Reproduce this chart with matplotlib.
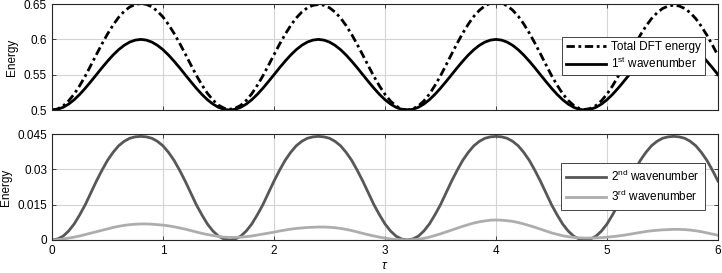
import matplotlib
matplotlib.use("Agg")
import matplotlib.pyplot as plt

plt.rcParams['font.family'] = ['Liberation Sans', 'DejaVu Sans']
plt.rcParams['mathtext.fontset'] = 'custom'
plt.rcParams['mathtext.rm'] = 'Liberation Sans'
plt.rcParams['mathtext.it'] = 'Liberation Sans:italic'

# sample grid of tau, step 0.05 from 0 to 6
tau = [round(0.05 * k, 2) for k in range(121)]

total = [0.5000, 0.5015, 0.5058, 0.5130, 0.5226, 0.5346, 0.5482, 0.5632,
         0.5785, 0.5935, 0.6076, 0.6203, 0.6312, 0.6397, 0.6459, 0.6495,
         0.6508, 0.6496, 0.6461, 0.6400, 0.6317, 0.6210, 0.6085, 0.5945,
         0.5796, 0.5643, 0.5493, 0.5357, 0.5237, 0.5141, 0.5069, 0.5026,
         0.5011, 0.5025, 0.5066, 0.5136, 0.5231, 0.5350, 0.5484, 0.5632,
         0.5783, 0.5932, 0.6071, 0.6196, 0.6303, 0.6386, 0.6447, 0.6482,
         0.6495, 0.6483, 0.6448, 0.6387, 0.6303, 0.6195, 0.6069, 0.5928,
         0.5778, 0.5625, 0.5476, 0.5341, 0.5222, 0.5126, 0.5056, 0.5015,
         0.5000, 0.5015, 0.5057, 0.5129, 0.5226, 0.5348, 0.5485, 0.5637,
         0.5792, 0.5944, 0.6087, 0.6215, 0.6326, 0.6412, 0.6475, 0.6512,
         0.6525, 0.6512, 0.6476, 0.6414, 0.6328, 0.6218, 0.6090, 0.5948,
         0.5796, 0.5641, 0.5489, 0.5353, 0.5232, 0.5136, 0.5065, 0.5023,
         0.5008, 0.5022, 0.5063, 0.5132, 0.5226, 0.5343, 0.5476, 0.5623,
         0.5774, 0.5922, 0.6061, 0.6186, 0.6293, 0.6376, 0.6437, 0.6472,
         0.6485, 0.6473, 0.6438, 0.6377, 0.6293, 0.6185, 0.6059, 0.5919,
         0.5770]

wave1 = [0.5, 0.501, 0.5038, 0.5084, 0.5146, 0.5222, 0.5309, 0.5403,
         0.55, 0.5598, 0.5691, 0.5778, 0.5854, 0.5916, 0.5962, 0.5990,
         0.6, 0.5990, 0.5962, 0.5916, 0.5854, 0.5778, 0.5691, 0.5598,
         0.55, 0.5403, 0.5309, 0.5222, 0.5146, 0.5084, 0.5038, 0.501,
         0.5, 0.501, 0.5038, 0.5084, 0.5146, 0.5222, 0.5309, 0.5403,
         0.55, 0.5598, 0.5691, 0.5778, 0.5854, 0.5916, 0.5962, 0.5990,
         0.6, 0.5990, 0.5962, 0.5916, 0.5854, 0.5778, 0.5691, 0.5598,
         0.55, 0.5403, 0.5309, 0.5222, 0.5146, 0.5084, 0.5038, 0.501,
         0.5, 0.501, 0.5038, 0.5084, 0.5146, 0.5222, 0.5309, 0.5403,
         0.55, 0.5598, 0.5691, 0.5778, 0.5854, 0.5916, 0.5962, 0.5990,
         0.6, 0.5990, 0.5962, 0.5916, 0.5854, 0.5778, 0.5691, 0.5598,
         0.55, 0.5403, 0.5309, 0.5222, 0.5146, 0.5084, 0.5038, 0.501,
         0.5, 0.501, 0.5038, 0.5084, 0.5146, 0.5222, 0.5309, 0.5403,
         0.55, 0.5598, 0.5691, 0.5778, 0.5854, 0.5916, 0.5962, 0.5990,
         0.6, 0.5990, 0.5962, 0.5916, 0.5854, 0.5778, 0.5691, 0.5598,
         0.55]

wave2 = [0.0, 0.0004, 0.0016, 0.0038, 0.0068, 0.0107, 0.0150, 0.0200,
         0.0250, 0.0296, 0.0338, 0.0372, 0.0400, 0.0419, 0.0432, 0.0438,
         0.0440, 0.0438, 0.0432, 0.0419, 0.0400, 0.0372, 0.0338, 0.0296,
         0.0250, 0.0200, 0.0150, 0.0107, 0.0068, 0.0038, 0.0016, 0.0004,
         0.0, 0.0004, 0.0016, 0.0038, 0.0068, 0.0107, 0.0150, 0.0200,
         0.0250, 0.0296, 0.0338, 0.0372, 0.0400, 0.0419, 0.0432, 0.0438,
         0.0440, 0.0438, 0.0432, 0.0419, 0.0400, 0.0372, 0.0338, 0.0296,
         0.0250, 0.0200, 0.0150, 0.0107, 0.0068, 0.0038, 0.0016, 0.0004,
         0.0, 0.0004, 0.0016, 0.0038, 0.0068, 0.0107, 0.0150, 0.0200,
         0.0250, 0.0296, 0.0338, 0.0372, 0.0400, 0.0419, 0.0432, 0.0438,
         0.0440, 0.0438, 0.0432, 0.0419, 0.0400, 0.0372, 0.0338, 0.0296,
         0.0250, 0.0200, 0.0150, 0.0107, 0.0068, 0.0038, 0.0016, 0.0004,
         0.0, 0.0004, 0.0016, 0.0038, 0.0068, 0.0107, 0.0150, 0.0200,
         0.0250, 0.0296, 0.0338, 0.0372, 0.0400, 0.0419, 0.0432, 0.0438,
         0.0440, 0.0438, 0.0432, 0.0419, 0.0400, 0.0372, 0.0338, 0.0296,
         0.0250]

wave3 = [0.0, 0.0001, 0.0004, 0.0008, 0.0012, 0.0017, 0.0023, 0.0029,
         0.0035, 0.0041, 0.0047, 0.0053, 0.0058, 0.0062, 0.0065, 0.0067,
         0.0068, 0.0068, 0.0067, 0.0065, 0.0063, 0.0060, 0.0056, 0.0051,
         0.0046, 0.0040, 0.0034, 0.0028, 0.0023, 0.0019, 0.0015, 0.0012,
         0.0011, 0.0011, 0.0012, 0.0014, 0.0017, 0.0021, 0.0025, 0.0029,
         0.0033, 0.0038, 0.0042, 0.0046, 0.0049, 0.0051, 0.0053, 0.0054,
         0.0055, 0.0055, 0.0054, 0.0052, 0.0049, 0.0045, 0.0040, 0.0034,
         0.0028, 0.0022, 0.0017, 0.0012, 0.0008, 0.0004, 0.0002, 0.0001,
         0.0, 0.0001, 0.0003, 0.0007, 0.0012, 0.0019, 0.0026, 0.0034,
         0.0042, 0.0050, 0.0058, 0.0065, 0.0072, 0.0077, 0.0081, 0.0084,
         0.0085, 0.0084, 0.0082, 0.0079, 0.0074, 0.0068, 0.0061, 0.0054,
         0.0046, 0.0038, 0.0030, 0.0024, 0.0018, 0.0014, 0.0011, 0.0009,
         0.0008, 0.0008, 0.0009, 0.0010, 0.0012, 0.0014, 0.0017, 0.0020,
         0.0024, 0.0028, 0.0032, 0.0036, 0.0039, 0.0041, 0.0043, 0.0044,
         0.0045, 0.0045, 0.0044, 0.0042, 0.0039, 0.0035, 0.0030, 0.0025,
         0.0020]

xticks = [0, 1, 2, 3, 4, 5, 6]
top_yticks = [0.5, 0.55, 0.6, 0.65]
top_ylabels = ['0.5', '0.55', '0.6', '0.65']
bot_yticks = [0, 0.015, 0.03, 0.045]
bot_ylabels = ['0', '0.015', '0.03', '0.045']

fig = plt.figure(figsize=(7.22, 2.73), dpi=100)
ax1 = fig.add_axes([0.072, 0.597, 0.9225, 0.388])
ax2 = fig.add_axes([0.072, 0.121, 0.9225, 0.388])


def style(ax):
    ax.set_xlim(0, 6)
    ax.set_xticks(xticks)
    ax.grid(True, color='#d4d4d4', linewidth=0.8)
    ax.set_axisbelow(True)
    for s in ax.spines.values():
        s.set_color('#262626')
        s.set_linewidth(0.8)
    ax.tick_params(direction='in', length=3, width=0.6, colors='#262626',
                   labelsize=8.5, top=True, right=True, labelcolor='black')
    ax.set_ylabel('Energy', fontsize=8.5, labelpad=4)


style(ax1)
ax1.plot(tau, total, color='black', lw=2, linestyle=(0, (3, 1.3, 1, 1.3)),
         label='Total DFT energy')
ax1.plot(tau, wave1, color='black', lw=2, label='1$^{\\rm st}$ wavenumber')
ax1.set_ylim(0.5, 0.65)
ax1.set_yticks(top_yticks)
ax1.set_yticklabels(top_ylabels)
ax1.set_xticklabels([])
leg1 = ax1.legend(loc='center right', bbox_to_anchor=(0.98, 0.51),
                  fontsize=8.5, fancybox=False, edgecolor='#262626',
                  handlelength=3.4, borderpad=0.35, labelspacing=0.2,
                  handletextpad=0.4, borderaxespad=0, framealpha=1)
leg1.get_frame().set_linewidth(0.6)

style(ax2)
ax2.plot(tau, wave2, color='#575757', lw=2, label='2$^{\\rm nd}$ wavenumber')
ax2.plot(tau, wave3, color='#adadad', lw=2, label='3$^{\\rm rd}$ wavenumber')
ax2.set_ylim(0, 0.045)
ax2.set_yticks(bot_yticks)
ax2.set_yticklabels(bot_ylabels)
ax2.set_xlabel('$\\tau$', fontsize=9, labelpad=2)
leg2 = ax2.legend(loc='center right', bbox_to_anchor=(0.98, 0.505),
                  fontsize=8.5, fancybox=False, edgecolor='#262626',
                  handlelength=3.4, borderpad=0.45, labelspacing=0.45,
                  handletextpad=0.4, borderaxespad=0, framealpha=1)
leg2.get_frame().set_linewidth(0.6)

fig.savefig('out.png', dpi=100)
